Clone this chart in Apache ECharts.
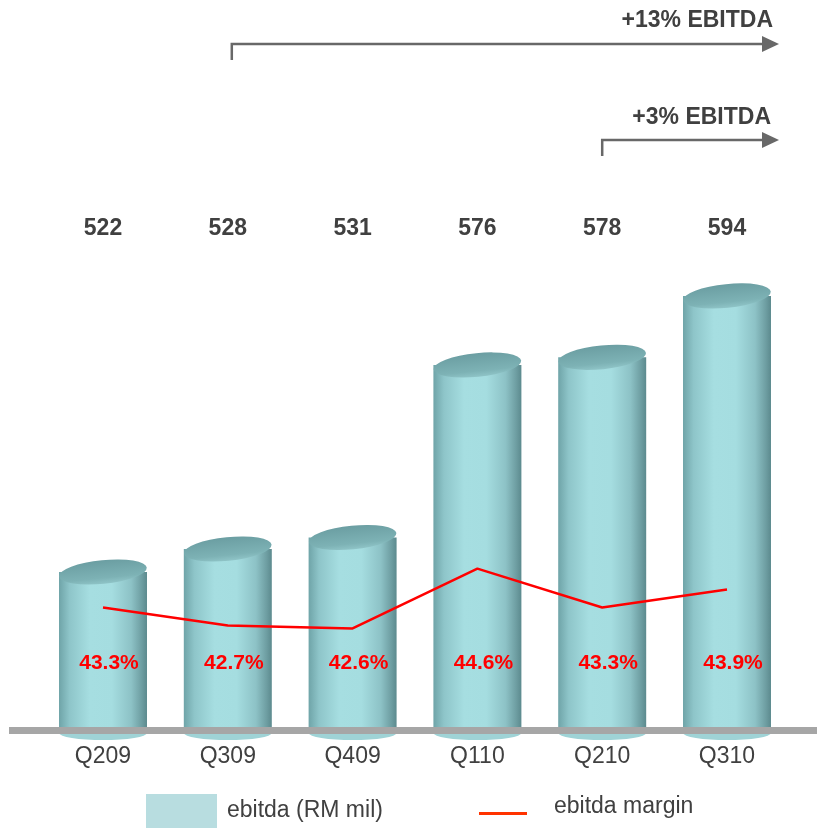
<!DOCTYPE html>
<html><head><meta charset="utf-8">
<script src="https://cdn.jsdelivr.net/npm/echarts/dist/echarts.min.js"></script>
<style>html,body{margin:0;padding:0;background:#fff}#c{width:817px;height:828px}</style>
</head><body><div id="c"></div>
<script>
const categories = ['Q209','Q309','Q409','Q110','Q210','Q310'];
const ebitda = [522, 528, 531, 576, 578, 594];
const margin = [43.3, 42.7, 42.6, 44.6, 43.3, 43.9];
const marginLabels = ['43.3%','42.7%','42.6%','44.6%','43.3%','43.9%'];
const growthText = ['+13% EBITDA', '+3% EBITDA'];
const growthFrom = ['Q309', 'Q210'];

const FONT = '"Liberation Sans", Arial, sans-serif';
const Y_MIN = 480, Y_MAX = 608.6;
const M_MIN = 39.1, M_MAX = 55.6;

const chart = echarts.init(document.getElementById('c'), null, {renderer: 'canvas'});

function cyl(params, api) {
  const i = api.value(0), v = api.value(1);
  const top = api.coord([i, v]);
  const base = api.coord([i, Y_MIN]);
  const w = api.size([1, 0])[0] * 0.705;
  const rx = w / 2;
  const cx = top[0];
  const bodyGrad = new echarts.graphic.LinearGradient(0, 0, 1, 0, [
    {offset: 0, color: '#6fa4a8'},
    {offset: 0.12, color: '#8ec5c9'},
    {offset: 0.35, color: '#a6dee1'},
    {offset: 0.6, color: '#a5dde0'},
    {offset: 0.82, color: '#8dc2c6'},
    {offset: 0.94, color: '#6e9ea2'},
    {offset: 1, color: '#5c8a8e'}
  ]);
  const topGrad = new echarts.graphic.LinearGradient(0, 0, 0, 1, [
    {offset: 0, color: '#6b9ea2'},
    {offset: 0.75, color: '#7db2b5'},
    {offset: 1, color: '#8fc4c7'}
  ]);
  return {
    type: 'group',
    children: [
      {type: 'circle', shape: {cx: 0, cy: 0, r: rx}, x: cx, y: base[1], scaleY: 0.16,
       style: {fill: '#9fd3d6'}},
      {type: 'rect', shape: {x: cx - rx, y: top[1], width: w, height: base[1] - top[1]},
       style: {fill: bodyGrad}},
      {type: 'circle', shape: {cx: 0, cy: 0, r: rx}, x: cx, y: top[1], scaleY: 0.27, rotation: 0.1,
       style: {fill: topGrad}}
    ]
  };
}

const option = {
  animation: false,
  backgroundColor: '#ffffff',
  textStyle: {fontFamily: FONT},
  grid: {left: 40.6, right: 27.6, top: 240, bottom: 95, containLabel: false},
  xAxis: [
    {type: 'category', data: categories, position: 'bottom',
     axisLine: {show: false}, axisTick: {show: false}, splitLine: {show: false},
     axisLabel: {fontSize: 23, color: '#404040', margin: 12, fontFamily: FONT}},
    {type: 'category', data: ebitda.map(String), position: 'top', z: 10,
     axisLine: {show: false}, axisTick: {show: false},
     axisLabel: {fontSize: 23, fontWeight: 'bold', color: '#404040', margin: 0, fontFamily: FONT}},
    {type: 'category', data: marginLabels, position: 'bottom', offset: -82, z: 10,
     axisLine: {show: false}, axisTick: {show: false},
     axisLabel: {fontSize: 21, fontWeight: 'bold', color: '#ff0000', margin: 2, padding: [0, 0, 0, 12], fontFamily: FONT}}
  ],
  yAxis: [
    {type: 'value', min: Y_MIN, max: Y_MAX, show: false, splitLine: {show: false}},
    {type: 'value', min: M_MIN, max: M_MAX, show: false, splitLine: {show: false}}
  ],
  legend: [
    {data: ['ebitda (RM mil)'], left: 146, top: 794, padding: 0, itemWidth: 71, itemHeight: 34,
     icon: 'rect', selectedMode: false,
     textStyle: {fontSize: 23, color: '#404040', fontFamily: FONT, padding: [0, 0, 0, 5]}},
    {data: [{name: 'ebitda margin',
             icon: 'path://M0,0L1,0L1,0.01Z M0,14L48,14L48,17L0,17Z',
             itemStyle: {color: '#ff3300'}}],
     left: 479, top: 795, padding: 0,
     itemWidth: 48, itemHeight: 17, selectedMode: false,
     textStyle: {fontSize: 23, color: '#404040', fontFamily: FONT, padding: [0, 0, 0, 22]}}
  ],
  series: [
    {type: 'custom', name: 'ebitda (RM mil)', xAxisIndex: 0, yAxisIndex: 0,
     itemStyle: {color: '#b8dde0'},
     data: ebitda.map((v, i) => [i, v]), encode: {x: 0, y: 1}, renderItem: cyl, z: 2},
    {type: 'line', name: 'ebitda margin', xAxisIndex: 0, yAxisIndex: 1, data: margin,
     symbol: 'none', lineStyle: {color: '#ff0000', width: 2.5}, itemStyle: {color: '#ff3300'}, z: 5}
  ]
};
chart.setOption(option);

const x0 = chart.convertToPixel({xAxisIndex: 0}, growthFrom[0]);
const x1 = chart.convertToPixel({xAxisIndex: 0}, growthFrom[1]);
const ARROW = '#686868';
chart.setOption({
  graphic: [
    {type: 'rect', shape: {x: 9, y: 727, width: 808, height: 7}, style: {fill: '#a6a6a6'}, z: 8},
    {type: 'polyline', shape: {points: [[x0 + 4, 60], [x0 + 4, 44], [764, 44]]},
     style: {stroke: ARROW, lineWidth: 2.5, fill: null}, z: 8},
    {type: 'polygon', shape: {points: [[762, 36], [779, 44], [762, 52]]}, style: {fill: ARROW}, z: 8},
    {type: 'text', x: 773, y: 21, style: {text: growthText[0], font: 'bold 23px ' + FONT, fill: '#404040', align: 'right', verticalAlign: 'middle'}, z: 8},
    {type: 'polyline', shape: {points: [[x1, 156], [x1, 140], [764, 140]]},
     style: {stroke: ARROW, lineWidth: 2.5, fill: null}, z: 8},
    {type: 'polygon', shape: {points: [[762, 132], [779, 140], [762, 148]]}, style: {fill: ARROW}, z: 8},
    {type: 'text', x: 771, y: 118, style: {text: growthText[1], font: 'bold 23px ' + FONT, fill: '#404040', align: 'right', verticalAlign: 'middle'}, z: 8}
  ]
});
</script>
</body></html>
